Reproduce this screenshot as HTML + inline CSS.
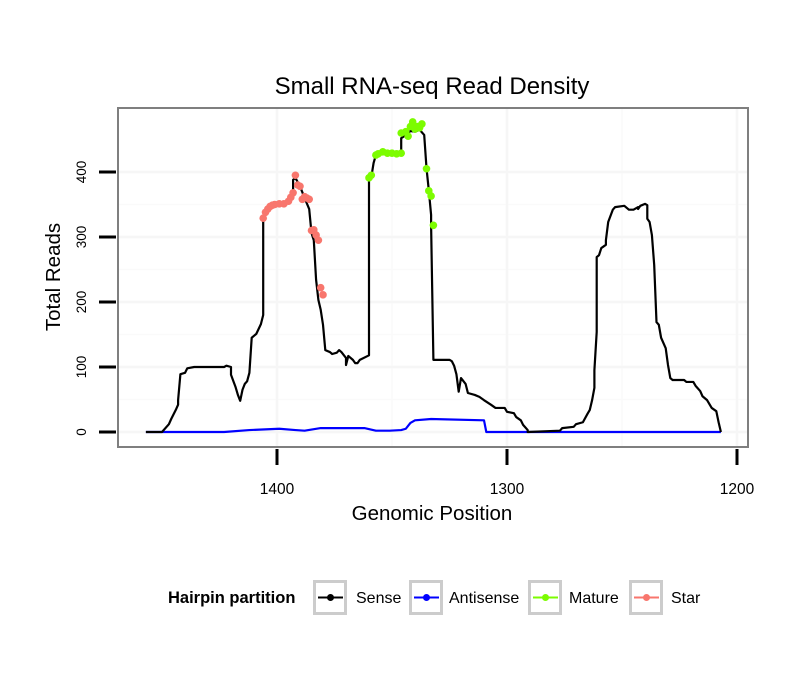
<!DOCTYPE html>
<html><head><meta charset="utf-8"><style>
html,body{margin:0;padding:0;background:#fff;}
svg text{font-family:"Liberation Sans",sans-serif;}
</style></head><body>
<svg id="chart" width="810" height="690" viewBox="0 0 810 690" xmlns="http://www.w3.org/2000/svg">
<rect width="810" height="690" fill="#fff"/>
<text x="432" y="94" font-size="24" text-anchor="middle" fill="#000">Small RNA-seq Read Density</text>
<g id="grid"></g>
<g id="series"></g>
<rect x="118" y="108" width="630" height="339" fill="none" stroke="#7f7f7f" stroke-width="2"/>
<g id="axes"></g>
<text x="432" y="520" font-size="20.5" text-anchor="middle">Genomic Position</text>
<text transform="translate(60,277) rotate(-90)" font-size="20.5" text-anchor="middle">Total Reads</text>
<g id="legend">
<text x="168" y="603" font-size="16.5" font-weight="bold">Hairpin partition</text>
</g>
</svg>
<script>
const xTicks=[1400,1300,1200];
const yTicks=[0,100,200,300,400];
const sensePos=[1457,1450,1447,1446,1444,1443,1443,1442,1440,1439,1436,1423,1422,1420,1420,1418,1417,1416,1415,1414,1413,1412,1411,1410,1409,1407,1406,1406,1405,1403,1397,1394,1393,1393,1392,1390,1388,1386,1385,1384,1383,1382,1381,1380,1379,1377,1376,1374,1373,1372,1370,1370,1369,1367,1366,1365,1364,1360,1360,1359,1358,1357,1354,1346,1346,1344,1342,1340,1338,1336,1335,1334,1333,1333,1332,1325,1324,1323,1322,1321,1320,1318,1317,1314,1312,1310,1307,1305,1301,1300,1297,1296,1294,1293,1291,1291,1277,1276,1271,1270,1267,1265,1264,1263,1262,1262,1261,1261,1260,1259,1257,1257,1256,1254,1253,1249,1247,1245,1243,1243,1242,1240,1239,1239,1238,1237,1236,1235,1234,1233,1231,1230,1229,1228,1223,1222,1219,1218,1216,1215,1213,1211,1209,1208,1207];
const senseVal=[0,0,12,20,34,42,49,89,91,98,100,100,102,100,88,69,57,48,65,74,78,91,145,148,151,166,180,326,338,348,351,360,368,388,391,378,360,343,306,295,234,203,188,165,126,123,120,122,126,123,114,103,117,111,106,106,111,118,388,392,414,426,429,429,452,457,463,462,465,457,406,372,334,318,111,111,109,102,89,62,83,74,60,57,54,49,42,37,37,31,29,23,18,11,3,0,2,6,8,12,15,28,34,49,68,95,154,269,272,283,288,295,323,342,346,348,342,342,346,343,348,351,349,328,323,303,257,169,165,145,129,103,83,80,80,77,77,71,63,55,49,37,32,15,0];
const antiPos=[1457,1423,1412,1399,1392,1388,1381,1362,1357,1351,1346,1344,1342,1340,1333,1310,1309,1207];
const antiVal=[0,0,3,5,3,2,6,6,2,2,3,5,14,18,20,18,0,0];
const starPos=[1406,1405,1404,1403,1402,1401,1399,1397,1395,1394,1393,1392,1391,1390,1389,1388,1387,1386,1385,1384,1383,1382,1381,1380];
const starVal=[329,338,343,347,349,350,351,351,355,361,368,395,380,378,358,362,360,358,310,311,303,295,222,211];
const maturePos=[1360,1359,1357,1356,1354,1352,1350,1348,1346,1346,1344,1343,1342,1341,1340,1339,1338,1337,1335,1334,1333,1332];
const matureVal=[391,395,426,428,431,429,429,428,429,460,462,455,470,477,466,470,468,474,405,371,363,318];

const NS="http://www.w3.org/2000/svg";
const x=v=>277+(1400-v)*2.3;
const y=v=>432-v*0.65;
const mk=(t,a,p)=>{const e=document.createElementNS(NS,t);for(const k in a)e.setAttribute(k,a[k]);p.appendChild(e);return e;};
const grid=document.getElementById('grid'),axes=document.getElementById('axes'),ser=document.getElementById('series'),leg=document.getElementById('legend');
for(let i=0;i<yTicks.length-1;i++){const m=(yTicks[i]+yTicks[i+1])/2;const g=mk('line',{x1:118,x2:748,y1:y(m),y2:y(m),stroke:'#fafafa','stroke-width':1.5},grid);

}
for(let i=0;i<xTicks.length-1;i++){const m=(xTicks[i]+xTicks[i+1])/2;const g=mk('line',{x1:x(m),x2:x(m),y1:108,y2:447,stroke:'#fafafa','stroke-width':1.5},grid);

}
yTicks.forEach(t=>{const g=mk('line',{x1:118,x2:748,y1:y(t),y2:y(t),stroke:'#f6f6f6','stroke-width':2.5},grid);


const tk=mk('line',{x1:99,x2:116,y1:y(t),y2:y(t),stroke:'#000','stroke-width':3},axes);


const tx=mk('text',{transform:`translate(86,${y(t)}) rotate(-90)`,'font-size':13.5,'text-anchor':'middle'},axes);tx.textContent=t;

});
xTicks.forEach(t=>{const g=mk('line',{x1:x(t),x2:x(t),y1:108,y2:447,stroke:'#f6f6f6','stroke-width':2.5},grid);


const tk=mk('line',{x1:x(t),x2:x(t),y1:449,y2:465,stroke:'#000','stroke-width':3},axes);


const tx=mk('text',{x:x(t),y:494,'font-size':15.5,'text-anchor':'middle'},axes);tx.textContent=t;

});
const line=(P,V,c,n)=>{const l=mk('polyline',{points:P.map((p,i)=>x(p)+','+y(V[i])).join(' '),fill:'none',stroke:c,'stroke-width':2.2,'stroke-linejoin':'round'},ser);

};
line(antiPos,antiVal,'#0000ff','antisense-line');
line(sensePos,senseVal,'#000','sense-line');
const dots=(P,V,c,n)=>P.forEach((p,i)=>{const d=mk('circle',{cx:x(p),cy:y(V[i]),r:3.8,fill:c},ser);

});
dots(starPos,starVal,'#f8766d','star-point');
dots(maturePos,matureVal,'#7cfc00','mature-point');
const keys=[['Sense','#000',313,356],['Antisense','#0000ff',409,449],['Mature','#7cfc00',528,569],['Star','#f8766d',629,671]];
keys.forEach(k=>{const g=mk('g',{},leg);


mk('rect',{x:k[2]+1.5,y:581.5,width:31,height:32,fill:'#fff',stroke:'#cccccc','stroke-width':3},g);
mk('line',{x1:k[2]+5,x2:k[2]+30,y1:597.5,y2:597.5,stroke:k[1],'stroke-width':2},g);
mk('circle',{cx:k[2]+17.5,cy:597.5,r:3.5,fill:k[1]},g);
const t=mk('text',{x:k[3],y:603,'font-size':16},g);t.textContent=k[0];});
</script>
</body></html>
